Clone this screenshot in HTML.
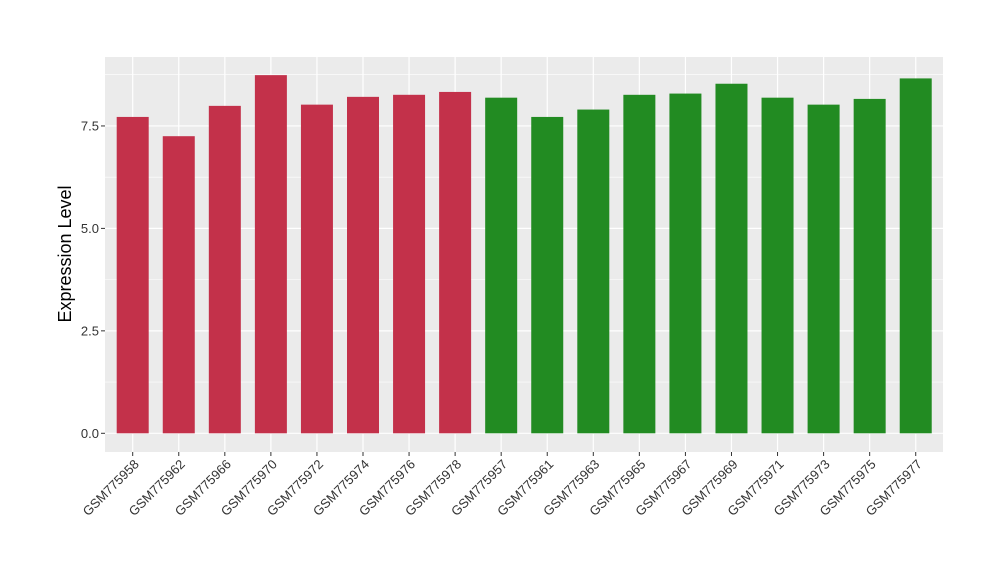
<!DOCTYPE html>
<html><head><meta charset="utf-8"><style>body{margin:0;background:#fff}svg{display:block;font-family:"Liberation Sans",Arial,sans-serif}</style></head>
<body>
<svg id="chart" width="1000" height="580"></svg>
<script>
const categories=["GSM775958","GSM775962","GSM775966","GSM775970","GSM775972","GSM775974","GSM775976","GSM775978","GSM775957","GSM775961","GSM775963","GSM775965","GSM775967","GSM775969","GSM775971","GSM775973","GSM775975","GSM775977"];
const values=[7.72,7.25,7.99,8.74,8.02,8.21,8.26,8.33,8.19,7.72,7.9,8.26,8.29,8.53,8.19,8.02,8.16,8.66];
const groups=[0,0,0,0,0,0,0,0,1,1,1,1,1,1,1,1,1,1];
const groupColors=["#C3314A","#228B22"];
const yTicks=[0,2.5,5,7.5];
const yTickLabels=["0.0","2.5","5.0","7.5"];
const NS="http://www.w3.org/2000/svg",svg=document.getElementById("chart");
const pL=105,pR=943,pT=57,pB=452;
const y=v=>433.3-v*40.98;
const x=i=>132.7+i*46.06;
function mk(t,a,p){const e=document.createElementNS(NS,t);for(const k in a)e.setAttribute(k,a[k]);(p||svg).appendChild(e);return e;}
const panel=mk("rect",{x:pL,y:pT,width:pR-pL,height:pB-pT,fill:"#EBEBEB"});


for(let i=0;i<yTicks.length-1;i++){const m=y((yTicks[i]+yTicks[i+1])/2);const g=mk("line",{x1:pL,x2:pR,y1:m,y2:m,stroke:"#fff","stroke-width":0.6});

}
{const m=y(8.75);const g=mk("line",{x1:pL,x2:pR,y1:m,y2:m,stroke:"#fff","stroke-width":0.6});

}
yTicks.forEach((t,i)=>{const yy=y(t);
const g=mk("line",{x1:pL,x2:pR,y1:yy,y2:yy,stroke:"#fff","stroke-width":1.2});


const tk=mk("line",{x1:pL-4,x2:pL,y1:yy,y2:yy,stroke:"#333","stroke-width":1});


const tx=mk("text",{x:pL-6,y:yy+4.5,"text-anchor":"end","font-size":13,fill:"#333"});tx.textContent=yTickLabels[i];

});
categories.forEach((c,i)=>{const xx=x(i);
const g=mk("line",{x1:xx,x2:xx,y1:pT,y2:pB,stroke:"#fff","stroke-width":1.2});


const b=mk("rect",{x:xx-16,y:y(values[i]),width:32,height:y(0)-y(values[i]),fill:groupColors[groups[i]]});


const tk=mk("line",{x1:xx,x2:xx,y1:pB,y2:pB+4,stroke:"#333","stroke-width":1});


const tx=mk("text",{x:xx+7,y:pB+13,"text-anchor":"end","font-size":13,fill:"#333",transform:`rotate(-45 ${xx+7} ${pB+13})`});tx.textContent=c;

});
const yt=mk("text",{x:71,y:254,"text-anchor":"middle","font-size":18,fill:"#000",transform:"rotate(-90 71 254)"});yt.textContent="Expression Level";


</script>
</body></html>
